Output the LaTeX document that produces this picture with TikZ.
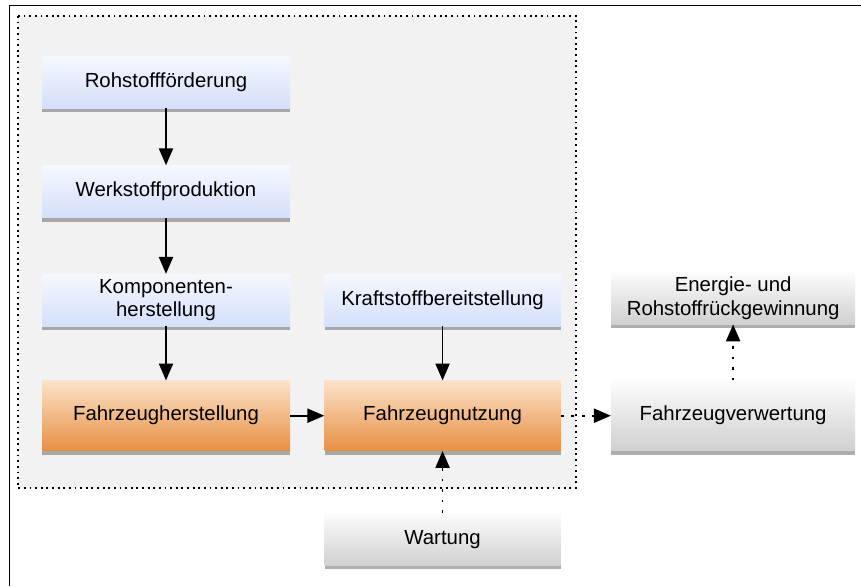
\documentclass[tikz,border=0pt]{standalone}
\usepackage{fontspec}
\setmainfont{Liberation Sans}
\usepackage{tikz}
\usetikzlibrary{arrows.meta,positioning,shadows}
\definecolor{blueTop}{RGB}{246,248,255}
\definecolor{blueBot}{RGB}{212,223,250}
\definecolor{orangeTop}{RGB}{251,226,202}
\definecolor{orangeBot}{RGB}{232,144,66}
\definecolor{greyTop}{RGB}{252,252,252}
\definecolor{greyBot}{RGB}{208,208,208}
\definecolor{areagrey}{RGB}{242,242,242}
\tikzstyle{lcbox}=[rectangle,minimum height=1.3cm,align=center,
                  font=\fontsize{14.5}{16.5}\selectfont,
                  drop shadow={shadow xshift=0pt,shadow yshift=-3pt,opacity=0.45,fill=black!70}]
\tikzstyle{bluebox}=[lcbox,top color=blueTop,bottom color=blueBot]
\tikzstyle{orangebox}=[lcbox,minimum height=1.75cm,top color=orangeTop,bottom color=orangeBot]
\tikzstyle{greybox}=[lcbox,top color=greyTop,bottom color=greyBot]
\tikzstyle{arrow}=[-{Triangle[length=12pt,width=10pt]},line width=1.3pt]
\tikzstyle{dotarrow}=[arrow,dash pattern=on 2pt off 5.5pt]

\begin{document}
\begin{tikzpicture}[node distance=1.425cm and 0.85cm]
      \useasboundingbox (0,0) rectangle (21.525,-14.65);
      \draw[line width=0.9pt] (0.24,-14.65) -- (0.24,-0.13) -- (21.525,-0.13);
      % life cycle area
      \draw[fill=areagrey,dash pattern=on 1.3pt off 2.7pt,line width=0.8pt] (0.45,-0.4) rectangle (14.4,-12.2);
      \node[bluebox,minimum width=6.2cm] (rohst) at (4.15,-2.05) {Rohstoffförderung};
      \node[bluebox,minimum width=6.2cm,below=of rohst] (werkst) {Werkstoffproduktion};
      \node[bluebox,minimum width=6.2cm,below=1.4cm of werkst] (kompon) {Komponenten-\\herstellung};
      \node[orangebox,minimum width=6.2cm,below=1.35cm of kompon] (fzherst) {Fahrzeugherstellung};
      \node[orangebox,minimum width=5.9cm,right=of fzherst] (fznutz) {Fahrzeugnutzung};
      \node[bluebox,minimum width=5.9cm,above=1.35cm of fznutz] (kraftst) {Kraftstoffbereitstellung};
      \node[greybox,minimum width=5.9cm,below=1.55cm of fznutz] (wartung) {Wartung};
      \node[greybox,minimum width=6.1cm,minimum height=1.75cm,right=1.25cm of fznutz] (fzverw) {Fahrzeugverwertung};
      \node[greybox,minimum width=6.1cm,above=1.4cm of fzverw] (rueckgew) {Energie- und\\Rohstoffrückgewinnung};
      \draw[arrow] (rohst)--(werkst);
      \draw[arrow] (werkst)--(kompon);
      \draw[arrow] (kompon)--(fzherst);
      \draw[arrow] (fzherst)--(fznutz);
      \draw[arrow] (kraftst)--(fznutz);
      \draw[dotarrow] (fznutz)--(fzverw);
      \draw[dotarrow] (wartung)--(fznutz);
      \draw[dotarrow] (fzverw)--(rueckgew);
    \end{tikzpicture}
\end{document}
